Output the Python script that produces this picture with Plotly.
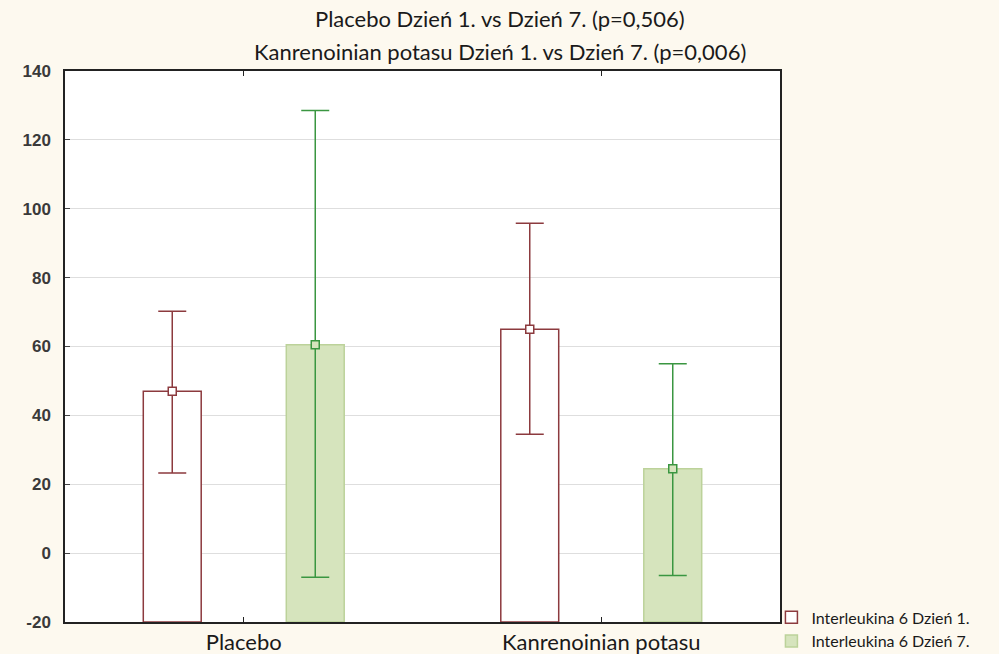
import plotly.graph_objects as go

categories = ["Placebo", "Kanrenoinian potasu"]
series_names = ["Interleukina 6 Dzień 1.", "Interleukina 6 Dzień 7."]
day1_mean = [47.0, 65.0]
day1_low = [23.3, 34.5]
day1_high = [70.2, 95.8]
day7_mean = [60.5, 24.5]
day7_low = [-7.0, -6.5]
day7_high = [128.5, 55.0]
y_ticks = [-20, 0, 20, 40, 60, 80, 100, 120, 140]
y_tick_labels = ["-20", "0", "20", "40", "60", "80", "100", "120", "140"]
title_lines = ["Placebo Dzień 1. vs Dzień 7. (p=0,506)",
               "Kanrenoinian potasu Dzień 1. vs Dzień 7. (p=0,006)"]

AXIS_MIN, AXIS_MAX = -20, 140
OFFSET = 0.2
BAR_W = 0.162

red_line = "#8c3a3e"
red_fill = "#ffffff"
green_line = "#3a9641"
green_fill = "#d6e4bd"
green_edge = "#bcd29a"
page_bg = "#fdf9ef"

TXT_FONT = "Lato, Open Sans, sans-serif"

idx = list(range(len(categories)))
fig = go.Figure()

specs = [
    (series_names[0], day1_mean, day1_low, day1_high, -OFFSET, red_fill, red_line, red_line),
    (series_names[1], day7_mean, day7_low, day7_high, OFFSET, green_fill, green_edge, green_line),
]
for name, mean, low, high, off, fill, edge, eline in specs:
    xs = [i + off for i in idx]
    fig.add_trace(go.Bar(
        x=xs, y=[m - AXIS_MIN for m in mean], base=AXIS_MIN, width=BAR_W,
        name=name, marker=dict(color=fill, line=dict(color=edge, width=1.5)),
        showlegend=True,
    ))
    fig.add_trace(go.Scatter(
        x=xs, y=mean, mode="markers", showlegend=False,
        marker=dict(symbol="square", size=8, color=fill, line=dict(color=eline, width=1.5)),
        error_y=dict(type="data", symmetric=False,
                     array=[h - m for h, m in zip(high, mean)],
                     arrayminus=[m - l for m, l in zip(mean, low)],
                     color=eline, thickness=1.5, width=14),
    ))

plot_l, plot_r, plot_t, plot_b = 65, 780, 71, 622
W, H = 999, 654
title_center_x = (500 - plot_l) / (plot_r - plot_l)

for line, ypix in zip(title_lines, [19, 51]):
    fig.add_annotation(
        text=line, xref="paper", yref="paper",
        x=title_center_x, y=(plot_b - ypix) / (plot_b - plot_t),
        xanchor="center", yanchor="middle", showarrow=False,
        font=dict(family=TXT_FONT, size=22, color="#1a1a1a"),
    )

fig.update_layout(
    width=W, height=H,
    margin=dict(l=plot_l, r=W - plot_r, t=plot_t, b=H - plot_b, autoexpand=False),
    paper_bgcolor=page_bg, plot_bgcolor="#ffffff",
    barmode="overlay",
    showlegend=True,
    legend=dict(x=0.988, xanchor="left", y=-0.066, yanchor="bottom",
                font=dict(family=TXT_FONT, size=16, color="#1a1a1a"),
                bgcolor="rgba(0,0,0,0)", tracegroupgap=0, itemwidth=30),
    xaxis=dict(range=[-0.5, len(categories) - 0.5], tickvals=idx, ticktext=categories,
               showgrid=False, zeroline=False, showline=True, linecolor="#222", linewidth=1.5,
               mirror="ticks", ticks="inside", ticklen=5, tickcolor="#222",
               tickfont=dict(family=TXT_FONT, size=22, color="#1a1a1a")),
    yaxis=dict(range=[AXIS_MIN, AXIS_MAX], tickvals=y_ticks, ticktext=y_tick_labels,
               showgrid=True, gridcolor="#dedede",
               gridwidth=1.2, zeroline=False, showline=True, linecolor="#222", linewidth=1.5,
               mirror=True, ticks="inside", ticklen=5, tickcolor="#444", ticklabelstandoff=9,
               tickfont=dict(family="Arial, Liberation Sans, sans-serif", size=17, color="#3a3a3a",
                             weight="bold")),
)

fig.write_html(
    "out.html",
    config={"displayModeBar": False},
    post_script=("document.body.style.margin='0';document.body.style.padding='0';"
                 "document.body.style.overflow='hidden';"
                 "document.body.style.background='" + page_bg + "';"),
)
